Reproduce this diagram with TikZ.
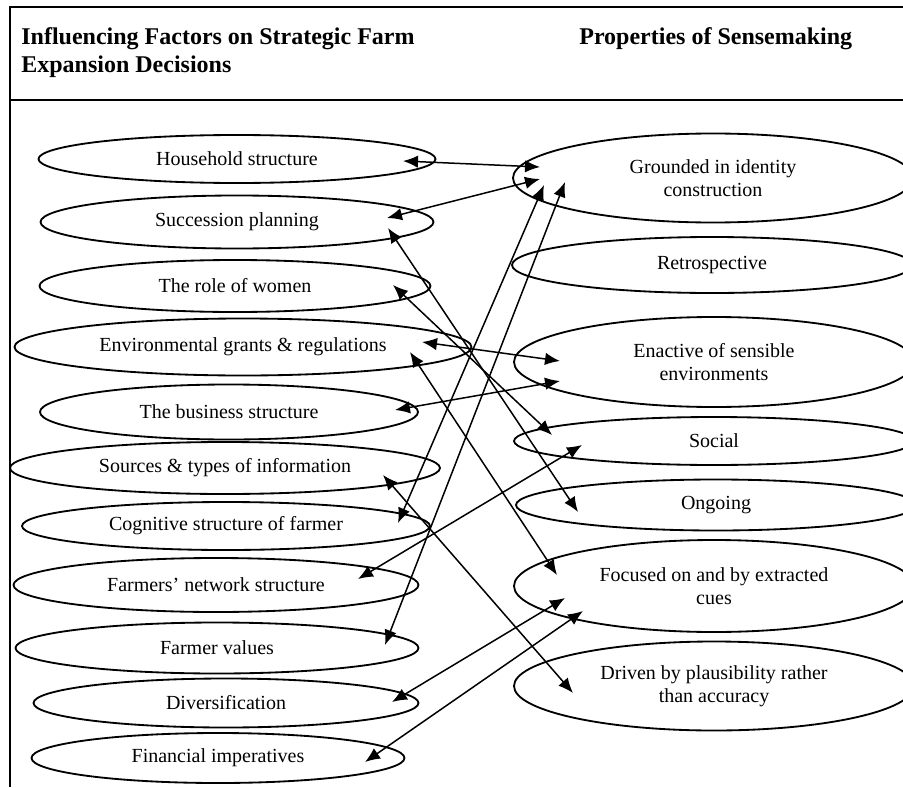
\documentclass[tikz,border=0pt]{standalone}
\usepackage{fontspec}
\setmainfont{Liberation Serif}
\usetikzlibrary{shapes.geometric,arrows.meta,calc}

\tikzstyle{oval}   = [ellipse, draw, line width=1.1pt, inner sep=1pt, align=center, font=\fontsize{12}{13.8}\selectfont]
\tikzstyle{link}   = [{Latex[length=9pt,width=7.5pt]}-{Latex[length=9pt,width=7.5pt]}, line width=0.9pt]
\tikzstyle{header} = [inner sep=0pt, align=left, font=\fontsize{14.4}{16.8}\selectfont\bfseries]
\def\oval#1#2#3#4#5#6{
  \node[oval, minimum width=#4*0.6pt, minimum height=#5*0.6pt] (#1) at (#2,#3) {#6};
}
\def\link#1#2#3#4#5#6{
  \draw[link] ($(#1)+(#2,#3)$) -- ($(#4)+(#5,#6)$);
}

\begin{document}
\begin{tikzpicture}[x=0.6pt, y=-0.6pt]
  \useasboundingbox (0,0) rectangle (903,787);
  \clip (0,0) rectangle (903,787);
  % table frame
  \draw[line width=1.2pt] (903,7) -- (10,7) -- (10,787);
  \draw[line width=1.2pt] (10,100) -- (903,100);
  \node[header, anchor=base west] (left head) at (21,73)
    {Influencing Factors on Strategic Farm\\Expansion Decisions};
  \node[header, anchor=base west] (right head) at (579,45) {Properties of Sensemaking};
  % influencing factors
  \oval{hh}{237}{159}{397}{48}{Household structure}
  \oval{sp}{237}{222}{393}{53}{Succession planning}
  \oval{rw}{235}{286}{391}{52}{The role of women}
  \oval{eg}{243}{347}{457}{57}{Environmental grants \& regulations}
  \oval{bs}{229}{412}{378}{55}{The business structure}
  \oval{si}{225}{468}{430}{52}{Sources \& types of information}
  \oval{cs}{226}{526}{408}{48}{Cognitive structure of farmer}
  \oval{ns}{216}{585}{405}{54}{Farmers’ network structure}
  \oval{fv}{217}{648}{403}{51}{Farmer values}
  \oval{dv}{226}{703}{385}{49}{Diversification}
  \oval{fi}{218}{758}{373}{50}{Financial imperatives}
  % properties of sensemaking
  \oval{gi}{713}{178}{400}{89}{Grounded in identity\\construction}
  \oval{re}{712}{265}{400}{56}{Retrospective}
  \oval{en}{714}{362}{400}{90}{Enactive of sensible\\environments}
  \oval{so}{714}{441}{400}{48}{Social}
  \oval{og}{716}{505}{400}{51}{Ongoing}
  \oval{fc}{714}{586}{400}{92}{Focused on and by extracted\\cues}
  \oval{dr}{714}{686}{400}{89}{Driven by plausibility rather\\than accuracy}
  % links
  \link{hh}{166}{2}{gi}{-173}{-11}
  \link{sp}{150}{-4}{gi}{-173}{1}
  \link{cs}{172}{-3}{gi}{-169}{7}
  \link{fv}{168}{-3}{gi}{-148}{4}
  \link{sp}{151}{6}{og}{-138}{7}
  \link{rw}{158}{-1}{so}{-162}{-6}
  \link{eg}{179}{-5}{en}{-154}{-1}
  \link{bs}{166}{-2}{en}{-154}{19}
  \link{eg}{167}{5}{fc}{-157}{-11}
  \link{si}{158}{7}{dr}{-141}{7}
  \link{ns}{142}{-6}{so}{-132}{4}
  \link{dv}{166}{-1}{fc}{-149}{12}
  \link{fi}{147}{4}{fc}{-131}{25}
\end{tikzpicture}
\end{document}
